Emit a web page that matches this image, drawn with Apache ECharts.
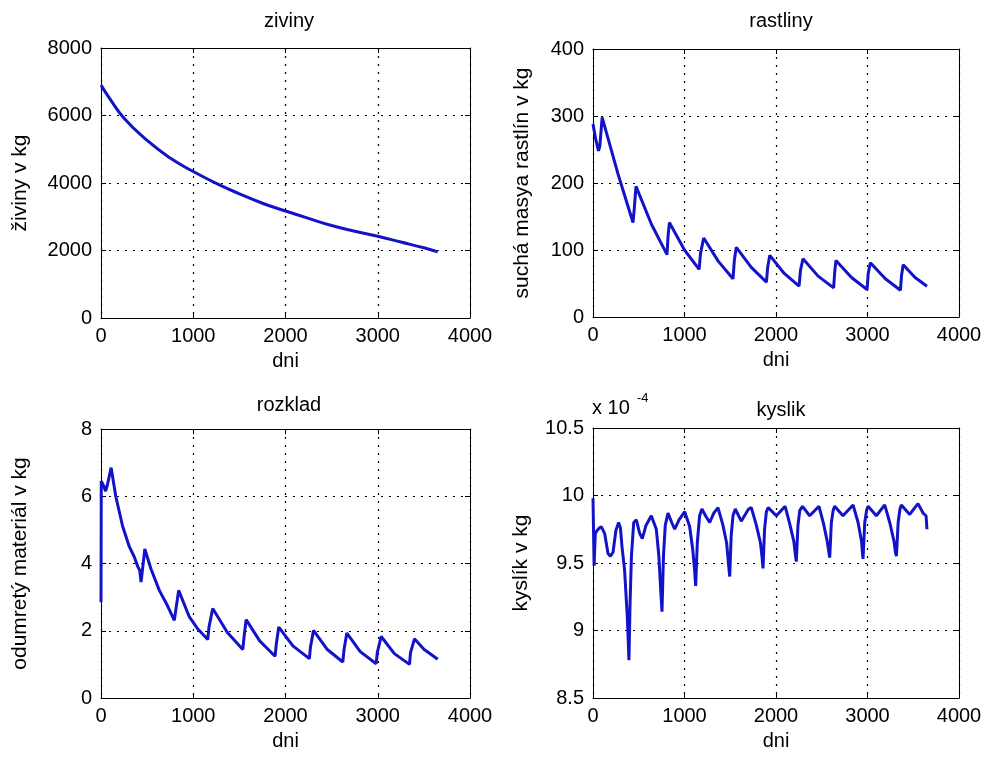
<!DOCTYPE html>
<html><head><meta charset="utf-8">
<script src="https://cdn.jsdelivr.net/npm/echarts@6/dist/echarts.min.js"></script>
<style>html,body{margin:0;padding:0;background:#fff}#c{width:987px;height:758px}</style>
</head><body><div id="c"></div>
<script>
// ---- data ----
const xTicks = [0, 1000, 2000, 3000, 4000];
const titles = ['ziviny', 'rastliny', 'rozklad', 'kyslik'];
const yNames = ['živiny v kg', 'suchá masya rastlín v kg', 'odumretý materiál v kg', 'kyslík v kg'];
const xName = 'dni';

const zivinyDays = [0, 100, 250, 500, 750, 1000, 1250, 1500, 1750, 2000, 2250, 2500, 2750, 3000, 3250, 3500, 3650];
const zivinyVals = [6900, 6480, 5920, 5260, 4740, 4340, 3990, 3680, 3400, 3170, 2950, 2740, 2570, 2420, 2250, 2080, 1960];

const rastlinyDays = [0, 30, 60, 75, 100, 270, 437, 450, 470, 640, 809, 820, 835, 1000, 1160, 1175, 1210, 1370, 1530, 1545, 1566, 1730, 1895, 1910, 1932, 2090, 2252, 2268, 2295, 2460, 2630, 2642, 2655, 2825, 2995, 3008, 3031, 3195, 3360, 3372, 3390, 3520, 3650];
const rastlinyVals = [288, 265, 248, 255, 298, 215, 141, 160, 195, 138, 93, 120, 141, 100, 71, 95, 118, 83, 57, 85, 104, 74, 52, 75, 92, 65, 46, 70, 87, 61, 43.5, 68, 84.5, 59, 41, 65, 81, 57, 40, 62, 78, 59, 46];

const rozkladDays = [0, 3, 30, 50, 70, 110, 160, 235, 307, 360, 400, 420, 434, 445, 475, 540, 632, 720, 795, 810, 842, 958, 1050, 1157, 1170, 1211, 1370, 1537, 1550, 1573, 1720, 1887, 1900, 1927, 2080, 2259, 2270, 2303, 2450, 2621, 2635, 2665, 2810, 2983, 2995, 3037, 3180, 3344, 3355, 3398, 3500, 3650];
const rozkladVals = [2.85, 6.45, 6.3, 6.15, 6.35, 6.85, 6.0, 5.1, 4.5, 4.2, 3.9, 3.8, 3.45, 3.7, 4.43, 3.85, 3.2, 2.75, 2.31, 2.6, 3.2, 2.41, 2.05, 1.74, 2.1, 2.66, 1.95, 1.44, 1.8, 2.33, 1.7, 1.24, 1.6, 2.11, 1.55, 1.17, 1.5, 2.01, 1.45, 1.07, 1.45, 1.93, 1.38, 1.02, 1.35, 1.83, 1.32, 1.0, 1.35, 1.76, 1.45, 1.15];

// kyslik values in units of 1e-4 kg
const kyslikDays = [0, 12, 25, 55, 90, 127, 164, 190, 219, 250, 280, 300, 317, 345, 375, 393, 405, 420, 445, 474, 510, 539, 580, 637, 692, 720, 740, 754, 770, 790, 820, 860, 893, 940, 1002, 1056, 1090, 1110, 1122, 1140, 1165, 1190, 1230, 1275, 1320, 1366, 1420, 1460, 1480, 1494, 1510, 1530, 1555, 1620, 1700, 1730, 1785, 1830, 1848, 1858, 1875, 1895, 1915, 2004, 2100, 2150, 2195, 2212, 2222, 2240, 2260, 2290, 2368, 2470, 2520, 2560, 2578, 2587, 2605, 2625, 2641, 2732, 2842, 2897, 2935, 2944, 2951, 2970, 2990, 3006, 3097, 3188, 3243, 3290, 3305, 3316, 3335, 3355, 3370, 3461, 3552, 3607, 3640, 3650];
const kyslikVals = [9.98, 9.48, 9.72, 9.75, 9.77, 9.72, 9.57, 9.55, 9.58, 9.74, 9.80, 9.76, 9.62, 9.45, 9.10, 8.78, 9.20, 9.55, 9.80, 9.82, 9.72, 9.68, 9.78, 9.85, 9.75, 9.55, 9.30, 9.14, 9.55, 9.78, 9.87, 9.80, 9.75, 9.82, 9.88, 9.77, 9.60, 9.45, 9.33, 9.65, 9.85, 9.90, 9.85, 9.80, 9.87, 9.91, 9.78, 9.65, 9.50, 9.40, 9.70, 9.85, 9.90, 9.81, 9.90, 9.91, 9.78, 9.65, 9.54, 9.46, 9.75, 9.88, 9.91, 9.85, 9.92, 9.79, 9.66, 9.56, 9.51, 9.78, 9.89, 9.92, 9.85, 9.92, 9.79, 9.66, 9.58, 9.54, 9.80, 9.89, 9.92, 9.85, 9.93, 9.80, 9.66, 9.58, 9.53, 9.80, 9.89, 9.92, 9.85, 9.93, 9.80, 9.66, 9.58, 9.55, 9.80, 9.90, 9.93, 9.86, 9.94, 9.87, 9.85, 9.75];

const yRanges = [[0, 8000, 2000], [0, 400, 100], [0, 8, 2], [8.5, 10.5, 0.5]];

// ---- chart ----
const FONT = '"Liberation Sans", Arial, sans-serif';
const LINE = '#1212c8';
const grids = [
  {left: 101, top: 48, width: 369, height: 270},
  {left: 593, top: 49, width: 366, height: 268},
  {left: 101, top: 429, width: 369, height: 269},
  {left: 593, top: 428, width: 366, height: 270}
];
const nameGaps = [70, 60, 70, 61];
const days = [zivinyDays, rastlinyDays, rozkladDays, kyslikDays];
const vals = [zivinyVals, rastlinyVals, rozkladVals, kyslikVals];

const dotted = {show: true, lineStyle: {color: '#000', width: 1.2, type: [2, 6]}};
const tick = {show: true, inside: true, length: 5, lineStyle: {color: '#000'}};
const aline = {show: true, onZero: false, lineStyle: {color: '#000', width: 1}};
const fmt = v => String(+v.toFixed(4));

const xAxes = [], yAxes = [], series = [];
for (let i = 0; i < 4; i++) {
  const xmin = xTicks[0], xmax = xTicks[xTicks.length - 1], xint = xTicks[1] - xTicks[0];
  xAxes.push({type: 'value', gridIndex: i, position: 'bottom', min: xmin, max: xmax, interval: xint,
    axisLine: aline, axisTick: tick, splitLine: dotted,
    axisLabel: {fontSize: 20, color: '#000', fontFamily: FONT, margin: 8, formatter: fmt},
    name: xName, nameLocation: 'middle', nameGap: 33,
    nameTextStyle: {fontSize: 20, color: '#000', fontFamily: FONT}});
  xAxes.push({type: 'value', gridIndex: i, position: 'top', min: xmin, max: xmax, interval: xint,
    axisLine: aline, axisTick: tick, splitLine: {show: false}, axisLabel: {show: false}});
  const [ymin, ymax, yint] = yRanges[i];
  yAxes.push({type: 'value', gridIndex: i, position: 'left', min: ymin, max: ymax, interval: yint,
    axisLine: aline, axisTick: tick, splitLine: dotted,
    axisLabel: {fontSize: 20, color: '#000', fontFamily: FONT, margin: 9, formatter: fmt},
    name: yNames[i], nameLocation: 'middle', nameGap: nameGaps[i], nameRotate: 90,
    nameTextStyle: {fontSize: 21, color: '#000', fontFamily: FONT}});
  yAxes.push({type: 'value', gridIndex: i, position: 'right', min: ymin, max: ymax, interval: yint,
    axisLine: aline, axisTick: tick, splitLine: {show: false}, axisLabel: {show: false}});
  series.push({type: 'line', xAxisIndex: 2 * i, yAxisIndex: 2 * i, showSymbol: false,
    smooth: i === 0, animation: false,
    lineStyle: {color: LINE, width: 3}, itemStyle: {color: LINE},
    data: days[i].map((d, k) => [d, vals[i][k]])});
}

const titlePos = [[284, 6], [776, 6], [284, 390], [776, 395]];
const option = {
  animation: false,
  backgroundColor: '#fff',
  title: titles.map((t, i) => ({text: t, left: titlePos[i][0], top: titlePos[i][1], textAlign: 'center',
    textStyle: {fontSize: 20, fontWeight: 'normal', color: '#000', fontFamily: FONT}})),
  grid: grids,
  xAxis: xAxes,
  yAxis: yAxes,
  series: series,
  graphic: [
    {type: 'text', left: 592, top: 398, style: {text: 'x 10', fontSize: 20, fill: '#000', fontFamily: FONT}},
    {type: 'text', left: 637, top: 392, style: {text: '-4', fontSize: 13, fill: '#000', fontFamily: FONT}}
  ]
};
const chart = echarts.init(document.getElementById('c'), null, {renderer: 'canvas'});
chart.setOption(option);
</script>
</body></html>
